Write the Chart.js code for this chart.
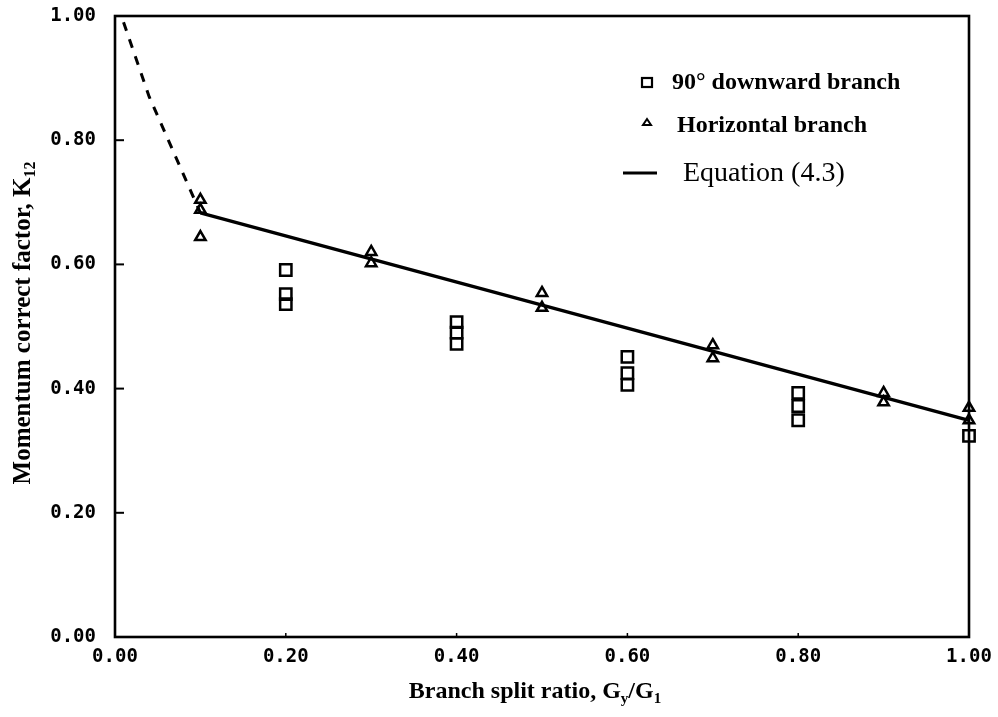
<!DOCTYPE html>
<html>
<head>
<meta charset="utf-8">
<script src="https://cdn.jsdelivr.net/npm/chart.js@4.4.1/dist/chart.umd.min.js"></script>
<style>
  html, body { margin: 0; padding: 0; background: #fff; }
  canvas { display: block; }
</style>
</head>
<body>
<canvas id="chart" width="998" height="717"></canvas>
<script>
// 90 deg downward branch (squares)
const downX = [0.2, 0.2, 0.2, 0.4, 0.4, 0.4, 0.6, 0.6, 0.6, 0.8, 0.8, 0.8, 1.0];
const downK = [0.591, 0.552, 0.536, 0.507, 0.490, 0.472, 0.451, 0.425, 0.406, 0.393, 0.372, 0.349, 0.324];

// horizontal branch (triangles)
const horizX = [0.1, 0.1, 0.1, 0.3, 0.3, 0.5, 0.5, 0.7, 0.7, 0.9, 0.9, 1.0, 1.0];
const horizK = [0.704, 0.688, 0.644, 0.620, 0.602, 0.554, 0.530, 0.470, 0.449, 0.393, 0.378, 0.369, 0.349];

// Equation (4.3) and its dashed extension towards G3/G1 = 0
const eqX = [0.1, 1.0];
const eqK = [0.683, 0.349];
const extX = [0.01, 0.04, 0.1];
const extK = [0.99, 0.87, 0.683];

const xTicks = [0, 0.2, 0.4, 0.6, 0.8, 1.0];
const xTickLabels = ['0.00', '0.20', '0.40', '0.60', '0.80', '1.00'];
const yTicks = [0, 0.2, 0.4, 0.6, 0.8, 1.0];
const yTickLabels = ['0.00', '0.20', '0.40', '0.60', '0.80', '1.00'];

const pts = (xs, ys) => xs.map((x, i) => ({ x: x, y: ys[i] }));

const SERIF = '"Liberation Serif", "Times New Roman", serif';
const MONO = '"DejaVu Sans Mono", monospace';

// box around the plot plus the small inward tick marks
const framePlugin = {
  id: 'frame',
  beforeDatasetsDraw(chart) {
    const { ctx, chartArea: a, scales } = chart;
    ctx.save();
    ctx.strokeStyle = '#000';
    ctx.lineWidth = 2.6;
    ctx.strokeRect(a.left, a.top, a.right - a.left, a.bottom - a.top);
    ctx.lineWidth = 2;
    yTicks.slice(1, -1).forEach(v => {
      const y = scales.y.getPixelForValue(v);
      ctx.beginPath();
      ctx.moveTo(a.left, y);
      ctx.lineTo(a.left + 9, y);
      ctx.stroke();
    });
    ctx.lineWidth = 1.5;
    xTicks.slice(1, -1).forEach(v => {
      const x = scales.x.getPixelForValue(v);
      ctx.beginPath();
      ctx.moveTo(x, a.bottom);
      ctx.lineTo(x, a.bottom - 4);
      ctx.stroke();
    });
    ctx.restore();
  }
};

// text with subscript runs: parts = [[text, isSub], ...]
function drawRich(ctx, parts, x, y, size, align) {
  const widths = parts.map(([t, sub]) => {
    ctx.font = 'bold ' + (sub ? Math.round(size * 0.62) : size) + 'px ' + SERIF;
    return ctx.measureText(t).width;
  });
  const total = widths.reduce((s, w) => s + w, 0);
  let cx = align === 'center' ? x - total / 2 : x;
  parts.forEach(([t, sub], i) => {
    ctx.font = 'bold ' + (sub ? Math.round(size * 0.62) : size) + 'px ' + SERIF;
    ctx.fillText(t, cx, sub ? y + size * 0.28 : y);
    cx += widths[i];
  });
}

const titlesPlugin = {
  id: 'axisTitles',
  afterDraw(chart) {
    const ctx = chart.ctx;
    ctx.save();
    ctx.fillStyle = '#000';
    ctx.textBaseline = 'middle';
    ctx.textAlign = 'left';
    drawRich(ctx, [['Branch split ratio, G', false], ['y', true], ['/G', false], ['1', true]], 535, 692, 24, 'center');
    ctx.translate(24, 323);
    ctx.rotate(-Math.PI / 2);
    drawRich(ctx, [['Momentum correct factor, K', false], ['12', true]], 0, 0, 25, 'center');
    ctx.restore();
  }
};

// legend drawn inside the plot, top right
const legendPlugin = {
  id: 'insideLegend',
  afterDraw(chart) {
    const ctx = chart.ctx;
    const ds = chart.data.datasets;
    ctx.save();
    ctx.fillStyle = '#000';
    ctx.strokeStyle = '#000';
    ctx.textBaseline = 'middle';
    ctx.textAlign = 'left';

    // squares
    ctx.lineWidth = 2.2;
    ctx.strokeRect(642, 78, 10, 9);
    ctx.font = 'bold 24px ' + SERIF;
    ctx.fillText(ds[0].label, 672, 83);

    // triangle
    ctx.beginPath();
    ctx.moveTo(647, 119);
    ctx.lineTo(651, 125);
    ctx.lineTo(643, 125);
    ctx.closePath();
    ctx.lineWidth = 2;
    ctx.stroke();
    ctx.fillText(ds[1].label, 677, 126);

    // line
    ctx.lineWidth = 3;
    ctx.beginPath();
    ctx.moveTo(623, 173);
    ctx.lineTo(657, 173);
    ctx.stroke();
    ctx.font = '28px ' + SERIF;
    ctx.fillText(ds[2].label, 683, 174);
    ctx.restore();
  }
};

new Chart(document.getElementById('chart'), {
  type: 'scatter',
  data: {
    datasets: [
      {
        label: '90° downward branch',
        data: pts(downX, downK),
        pointStyle: 'rect',
        pointRadius: 8,
        borderWidth: 2.5,
        borderColor: '#000',
        backgroundColor: 'rgba(255,255,255,0)',
        clip: false
      },
      {
        label: 'Horizontal branch',
        data: pts(horizX, horizK),
        pointStyle: 'triangle',
        pointRadius: 6,
        borderWidth: 2.5,
        borderColor: '#000',
        backgroundColor: 'rgba(255,255,255,0)',
        clip: false
      },
      {
        label: 'Equation (4.3)',
        data: pts(eqX, eqK),
        showLine: true,
        pointRadius: 0,
        borderWidth: 3.4,
        borderColor: '#000',
        clip: false
      },
      {
        label: 'extension',
        data: pts(extX, extK),
        showLine: true,
        pointRadius: 0,
        borderWidth: 3,
        borderDash: [9, 9],
        borderColor: '#000',
        clip: false
      }
    ]
  },
  options: {
    responsive: false,
    animation: false,
    events: [],
    layout: { padding: { top: 16, right: 29, left: 0, bottom: 0 } },
    plugins: {
      legend: { display: false },
      tooltip: { enabled: false }
    },
    scales: {
      x: {
        type: 'linear',
        min: 0,
        max: 1,
        afterBuildTicks: s => { s.ticks = xTicks.map(v => ({ value: v })); },
        afterFit: s => { s.height = 80; s.paddingLeft = 0; s.paddingRight = 0; },
        grid: { display: false, drawTicks: false },
        border: { display: false },
        ticks: {
          padding: 9,
          maxRotation: 0,
          color: '#000',
          font: { family: MONO, size: 19, weight: 'bold' },
          callback: (v) => xTickLabels[xTicks.indexOf(v)]
        }
      },
      y: {
        type: 'linear',
        min: 0,
        max: 1,
        afterBuildTicks: s => { s.ticks = yTicks.map(v => ({ value: v })); },
        afterFit: s => { s.width = 115; s.paddingTop = 0; s.paddingBottom = 0; },
        grid: { display: false, drawTicks: false },
        border: { display: false },
        ticks: {
          padding: 19,
          color: '#000',
          font: { family: MONO, size: 19, weight: 'bold' },
          callback: (v) => yTickLabels[yTicks.indexOf(v)]
        }
      }
    }
  },
  plugins: [framePlugin, titlesPlugin, legendPlugin]
});
</script>
</body>
</html>
